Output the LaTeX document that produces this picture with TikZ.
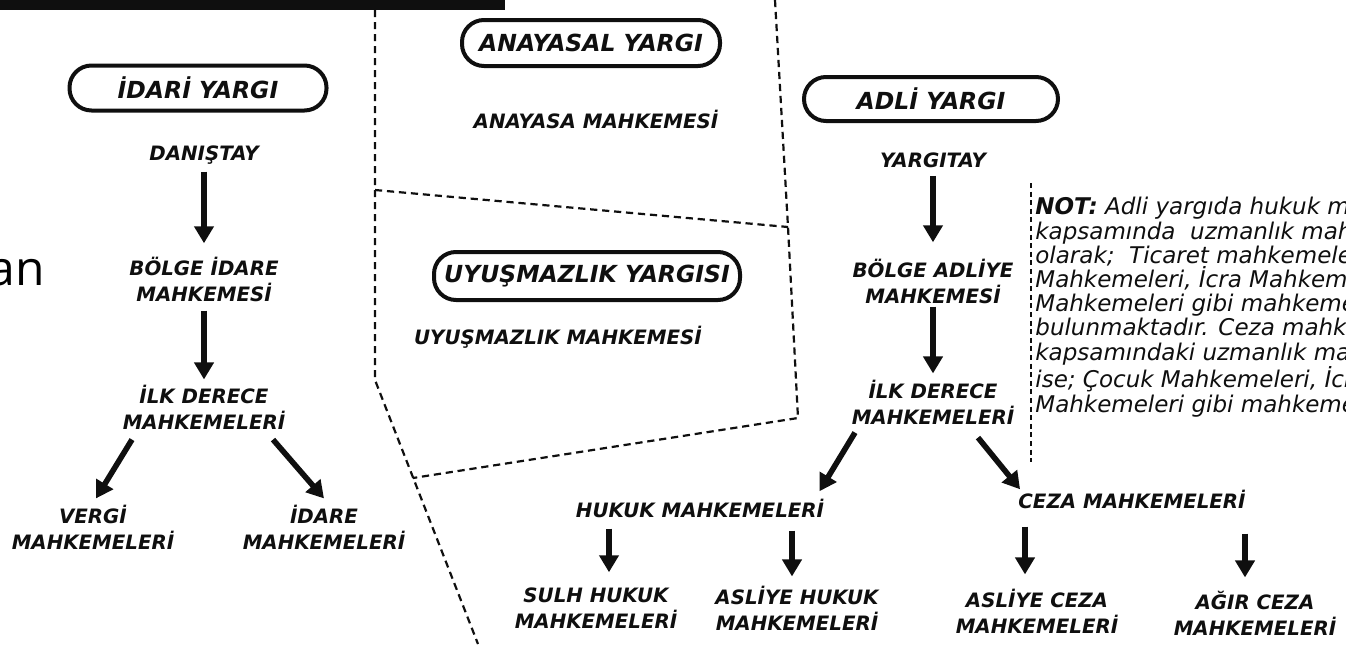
\documentclass[tikz,border=0pt]{standalone}
\usepackage{fontspec}
\usepackage{tikz}
\usetikzlibrary{arrows.meta,calc}
\newfontfamily\labelfont{DejaVu Sans}[BoldFont={DejaVu Sans Bold},ItalicFont={DejaVu Sans Oblique},BoldItalicFont={DejaVu Sans Bold Oblique}]
\newfontfamily\fragfont{Open Sans}
\definecolor{inkblack}{RGB}{15,15,15}
\tikzstyle{arrow} = [line width=2.8pt,-{Triangle[length=8.5pt,width=9.5pt]},color=inkblack]
\tikzstyle{pill} = [draw=inkblack, line width=2pt, rounded corners=11pt, inner sep=0pt, text=inkblack, font=\labelfont\bfseries\itshape\fontsize{11.75}{13}\selectfont]
\tikzstyle{court} = [inner sep=0pt, align=center, text=inkblack, font=\labelfont\bfseries\itshape\fontsize{9.9}{13}\selectfont]
\tikzstyle{notetext} = [inner sep=0pt, align=left, text=inkblack, font=\labelfont\itshape\fontsize{11.5}{12.1}\selectfont]
\tikzstyle{divider} = [line width=1.1pt, dash pattern=on 3.6pt off 2.4pt, color=inkblack]
\tikzstyle{notedash} = [line width=0.9pt, dash pattern=on 2.5pt off 1.8pt, color=inkblack]

\begin{document}
\begin{tikzpicture}[x=0.5pt,y=-0.5pt]
\useasboundingbox (0,0) rectangle (1346,644);
% Cut-off bits at the top left
\fill[inkblack] (0,0) rectangle (505,10);
\begin{scope}
\clip (0,0) rectangle (1346,644);
\node[anchor=base west, inner sep=0pt, font=\fragfont\fontsize{24}{28}\selectfont] (frag) at (-12,285) {an};
\end{scope}

% Dashed section borders
\draw[divider] (375,10) -- (375,380) -- (478,644);
\draw[divider] (775,0) -- (788,227) -- (798,418) -- (413,478);
\draw[divider] (375,190) -- (788,227);

% Idari yargi
\node[pill, minimum width=128.5pt, minimum height=22.5pt] (idari) at (198,88) {İDARİ YARGI};
\node[court] (danistay) at (204,155) {DANIŞTAY};
\node[court] (bolgeidare) at (204,279) {BÖLGE İDARE\\MAHKEMESİ};
\node[court] (ilkidare) at (204,407) {İLK DERECE\\MAHKEMELERİ};
\node[court] (vergi) at (93,527) {VERGİ\\MAHKEMELERİ};
\node[court] (idare) at (324,527) {İDARE\\MAHKEMELERİ};

\draw[arrow, shorten <=3.5pt, shorten >=6.5pt] (danistay) -- (bolgeidare);
\draw[arrow, shorten <=4.5pt, shorten >=2.5pt] (bolgeidare) -- (ilkidare);
\draw[arrow] ([xshift=-36pt,yshift=-5pt]ilkidare.south) -- ([xshift=1.5pt,yshift=3pt]vergi.north);
\draw[arrow] ([xshift=34.5pt,yshift=-5pt]ilkidare.south) -- ([yshift=3pt]idare.north);

% Anayasal and uyusmazlik yargisi
\node[pill, minimum width=129pt, minimum height=23pt] (anayasal) at (591,43) {ANAYASAL YARGI};
\node[court] (anayasa) at (596,119) {ANAYASA MAHKEMESİ};
\node[pill, minimum width=153pt, minimum height=24pt] (uyusmazlik) at (587,276) {UYUŞMAZLIK YARGISI};
\node[court] (uyusmazlikm) at (558,337) {UYUŞMAZLIK MAHKEMESİ};

% Adli yargi
\node[pill, minimum width=127pt, minimum height=22pt] (adli) at (931,99) {ADLİ YARGI};
\node[court] (yargitay) at (933,160) {YARGITAY};
\node[court] (bolgeadliye) at (933,281) {BÖLGE ADLİYE\\MAHKEMESİ};
\node[court] (ilkadli) at (933,402) {İLK DERECE\\MAHKEMELERİ};
\node[court] (hukuk) at (700,508) {HUKUK MAHKEMELERİ};
\node[court] (ceza) at (1132,499) {CEZA MAHKEMELERİ};
\node[court] (sulh) at (596,608) {SULH HUKUK\\MAHKEMELERİ};
\node[court] (asliyehukuk) at (797,608) {ASLİYE HUKUK\\MAHKEMELERİ};
\node[court] (asliyeceza) at (1037,611) {ASLİYE CEZA\\MAHKEMELERİ};
\node[court] (agir) at (1255,613) {AĞIR CEZA\\MAHKEMELERİ};

\draw[arrow, shorten <=4pt, shorten >=8pt] (yargitay) -- (bolgeadliye);
\draw[arrow, shorten <=1.5pt, shorten >=3pt] (bolgeadliye) -- (ilkadli);
\draw[arrow] ([xshift=-39pt,yshift=-4pt]ilkadli.south) -- ([xshift=-2.5pt,yshift=3.5pt]hukuk.north east);
\draw[arrow] ([xshift=22.5pt,yshift=-6.5pt]ilkadli.south) -- ([xshift=1pt]ceza.north west);
\draw[arrow] ($(sulh.north |- hukuk.south)+(6.5pt,-5.5pt)$) -- ($(sulh.north)+(6.5pt,7.5pt)$);
\draw[arrow] ($(asliyehukuk.north |- hukuk.south)+(-2.5pt,-6.5pt)$) -- ($(asliyehukuk.north)+(-2.5pt,4.5pt)$);
\draw[arrow] ($(asliyeceza.north |- ceza.south)+(-6pt,-9pt)$) -- ($(asliyeceza.north)+(-6pt,7pt)$);
\draw[arrow] ($(agir.north |- ceza.south)+(-5pt,-12.5pt)$) -- ($(agir.north)+(-5pt,6.5pt)$);

% Note on the right
\draw[notedash] (1031,183) -- (1031,462);
\begin{scope}
\clip (0,0) rectangle (1346,644);
\node[notetext, anchor=north west] (note) at (1035,197) {\textbf{NOT:} Adli yargıda hukuk mahkemeleri\\
kapsamında~ uzmanlık mahkemeleri\\
olarak;~ Ticaret mahkemeleri,\\
Mahkemeleri, İcra Mahkemeleri\\
Mahkemeleri gibi mahkemeler\\
bulunmaktadır. Ceza mahkemeleri\\
kapsamındaki uzmanlık mahkemeleri\\
ise; Çocuk Mahkemeleri, İcra\\
Mahkemeleri gibi mahkemeler};
\end{scope}
\end{tikzpicture}
\end{document}
